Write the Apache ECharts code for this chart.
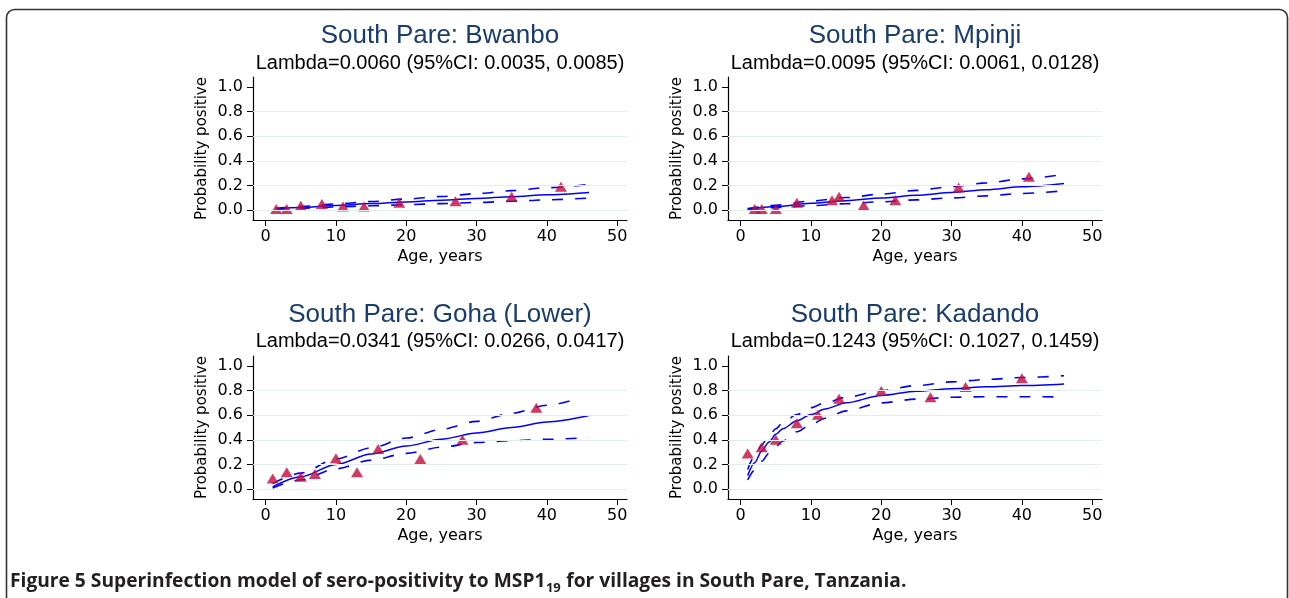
<!DOCTYPE html>
<html>
<head>
<meta charset="utf-8">
<script src="https://cdn.jsdelivr.net/npm/echarts@6/dist/echarts.min.js"></script>
<style>
  html, body { margin: 0; padding: 0; background: #fff; }
  #chart { width: 1289px; height: 598px; }
</style>
</head>
<body>
<div id="chart"></div>
<script>
// ---------- data ----------
const panelTitles = ['South Pare: Bwanbo', 'South Pare: Mpinji', 'South Pare: Goha (Lower)', 'South Pare: Kadando'];
const lambdaTexts = [
  'Lambda=0.0060 (95%CI: 0.0035, 0.0085)',
  'Lambda=0.0095 (95%CI: 0.0061, 0.0128)',
  'Lambda=0.0341 (95%CI: 0.0266, 0.0417)',
  'Lambda=0.1243 (95%CI: 0.1027, 0.1459)'
];
const xTicks = [0, 10, 20, 30, 40, 50];
const yTicks = [0, 0.2, 0.4, 0.6, 0.8, 1.0];
const gridLevels = [0, 0.2, 0.4, 0.6, 0.8];
const xAxisName = 'Age, years';
const yAxisName = 'Probability positive';
const captionMain = 'Figure 5 Superinfection model of sero-positivity to MSP1';
const captionSub = '19';
const captionEnd = ' for villages in South Pare, Tanzania.';

// observed points
const bwanboAge = [1.5, 3, 5, 8, 11, 14, 19, 27, 35, 42];
const bwanboPos = [0.01, 0.01, 0.035, 0.05, 0.03, 0.03, 0.06, 0.073, 0.108, 0.19];
const mpinjiAge = [2, 3, 5, 8, 13, 14, 17.5, 22, 31, 41];
const mpinjiPos = [0.01, 0.01, 0.01, 0.06, 0.081, 0.108, 0.038, 0.081, 0.184, 0.27];
const gohaAge = [1, 3, 5, 7, 10, 13, 16, 22, 28, 38.5];
const gohaPos = [0.087, 0.136, 0.10, 0.122, 0.25, 0.136, 0.326, 0.245, 0.40, 0.66];
const kadandoAge = [1, 3, 5, 8, 11, 14, 20, 27, 32, 40];
const kadandoPos = [0.29, 0.34, 0.40, 0.535, 0.603, 0.734, 0.796, 0.745, 0.829, 0.90];

// fitted curves
const bwanboCurveAge = [1.5, 5, 10, 15, 20, 25, 30, 35, 40, 46];
const bwanboFit   = [0.011, 0.022, 0.038, 0.053, 0.067, 0.081, 0.095, 0.109, 0.124, 0.143];
const bwanboUpper = [0.015, 0.030, 0.050, 0.070, 0.090, 0.111, 0.134, 0.158, 0.182, 0.208];
const bwanboLower = [0.008, 0.016, 0.026, 0.035, 0.044, 0.053, 0.062, 0.072, 0.084, 0.098];

const mpinjiCurveAge = [1, 5, 10, 15, 20, 25, 30, 35, 40, 46];
const mpinjiFit   = [0.008, 0.030, 0.055, 0.077, 0.098, 0.120, 0.143, 0.166, 0.190, 0.216];
const mpinjiUpper = [0.012, 0.040, 0.073, 0.102, 0.130, 0.160, 0.190, 0.221, 0.254, 0.290];
const mpinjiLower = [0.005, 0.020, 0.037, 0.052, 0.068, 0.083, 0.099, 0.116, 0.135, 0.157];

const gohaCurveAge = [1, 5, 10, 15, 20, 25, 30, 35, 40, 46];
const gohaFit   = [0.018, 0.100, 0.200, 0.285, 0.350, 0.405, 0.455, 0.500, 0.545, 0.597];
const gohaUpperAge = [1, 5, 10, 15, 20, 25, 30, 35, 40, 44.5];
const gohaUpper = [0.045, 0.130, 0.245, 0.335, 0.415, 0.485, 0.550, 0.615, 0.680, 0.735];
const gohaLower = [0.010, 0.075, 0.165, 0.235, 0.290, 0.340, 0.378, 0.393, 0.404, 0.418];

const kadandoCurveAge = [1, 2, 3, 4, 5, 6, 8, 10, 12, 15, 20, 25, 30, 35, 40, 46];
const kadandoFit   = [0.110, 0.215, 0.310, 0.380, 0.445, 0.490, 0.555, 0.605, 0.650, 0.700, 0.760, 0.795, 0.815, 0.830, 0.840, 0.853];
const kadandoUpper = [0.160, 0.270, 0.360, 0.430, 0.490, 0.540, 0.605, 0.660, 0.700, 0.745, 0.800, 0.840, 0.870, 0.890, 0.905, 0.920];
const kadandoLower = [0.075, 0.155, 0.225, 0.290, 0.345, 0.390, 0.465, 0.525, 0.575, 0.635, 0.700, 0.730, 0.745, 0.750, 0.750, 0.748];

// ---------- build ----------
const zip = (xs, ys) => xs.map((x, i) => [x, ys[i]]);
const panels = [
  { pts: zip(bwanboAge, bwanboPos), fit: zip(bwanboCurveAge, bwanboFit), up: zip(bwanboCurveAge, bwanboUpper), lo: zip(bwanboCurveAge, bwanboLower) },
  { pts: zip(mpinjiAge, mpinjiPos), fit: zip(mpinjiCurveAge, mpinjiFit), up: zip(mpinjiCurveAge, mpinjiUpper), lo: zip(mpinjiCurveAge, mpinjiLower) },
  { pts: zip(gohaAge, gohaPos), fit: zip(gohaCurveAge, gohaFit), up: zip(gohaUpperAge, gohaUpper), lo: zip(gohaCurveAge, gohaLower) },
  { pts: zip(kadandoAge, kadandoPos), fit: zip(kadandoCurveAge, kadandoFit), up: zip(kadandoCurveAge, kadandoUpper), lo: zip(kadandoCurveAge, kadandoLower) }
];

const layout = [
  { left: 253, top: 77, cx: 440, ty: 36, sy: 63 },
  { left: 728, top: 77, cx: 915, ty: 36, sy: 63 },
  { left: 253, top: 356, cx: 440, ty: 315, sy: 341 },
  { left: 728, top: 356, cx: 915, ty: 315, sy: 341 }
];
const gw = 374, gh = 143;

const tickFont = 'DejaVu Sans';
const grids = [], xAxes = [], yAxes = [], series = [], graphics = [];

layout.forEach((L, i) => {
  grids.push({ left: L.left, top: L.top, width: gw, height: gh, containLabel: false });
  xAxes.push({
    gridIndex: i, type: 'value', min: -1.8, max: 51.4,
    axisLine: { show: true, onZero: false, lineStyle: { color: '#000', width: 1.2 } },
    axisTick: { show: true, length: 6, customValues: xTicks, lineStyle: { color: '#000', width: 1 } },
    axisLabel: { customValues: xTicks, color: '#000', fontFamily: tickFont, fontSize: 16, margin: 9 },
    splitLine: { show: false },
    name: xAxisName, nameLocation: 'middle', nameGap: 29,
    nameTextStyle: { color: '#000', fontFamily: tickFont, fontSize: 16 }
  });
  yAxes.push({
    gridIndex: i, type: 'value', min: -0.08, max: 1.08,
    axisLine: { show: true, onZero: false, lineStyle: { color: '#000', width: 1.2 } },
    axisTick: { show: true, length: 6, customValues: yTicks, lineStyle: { color: '#000', width: 1 } },
    axisLabel: { customValues: yTicks, color: '#000', fontFamily: tickFont, fontSize: 16, margin: 10,
                 formatter: v => Number(v).toFixed(1) },
    splitLine: { show: false },
    name: yAxisName, nameLocation: 'middle', nameGap: 43, nameRotate: 90,
    nameTextStyle: { color: '#000', fontFamily: tickFont, fontSize: 15 }
  });
  const P = panels[i];
  // grid lines
  series.push({
    type: 'line', xAxisIndex: i, yAxisIndex: i, data: [], z: 1, silent: true,
    markLine: {
      silent: true, symbol: ['none', 'none'], label: { show: false },
      lineStyle: { color: '#e3ecef', type: 'solid', width: 1 },
      emphasis: { disabled: true },
      data: gridLevels.map(v => ({ yAxis: v }))
    }
  });
  const lineBase = { type: 'line', xAxisIndex: i, yAxisIndex: i, showSymbol: false, smooth: 0.3,
                     smoothMonotone: 'x', silent: true, z: 2 };
  series.push(Object.assign({}, lineBase, { data: P.fit, lineStyle: { color: '#0000ff', width: 1.5 } }));
  series.push(Object.assign({}, lineBase, { data: P.up, lineStyle: { color: '#0000ff', width: 1.6, type: [11, 12] } }));
  series.push(Object.assign({}, lineBase, { data: P.lo, lineStyle: { color: '#0000ff', width: 1.6, type: [11, 12] } }));
  series.push({
    type: 'scatter', xAxisIndex: i, yAxisIndex: i, data: P.pts, z: 3, silent: true,
    symbol: 'triangle', symbolSize: [12, 10], itemStyle: { color: '#c40a3a' }
  });
  graphics.push({
    type: 'text', x: L.cx, y: L.ty, silent: true,
    style: { text: panelTitles[i], fill: '#1a3d6b', font: '26px "Liberation Sans"', align: 'center', verticalAlign: 'middle' }
  });
  graphics.push({
    type: 'text', x: L.cx, y: L.sy, silent: true,
    style: { text: lambdaTexts[i], fill: '#000', font: '20px "Liberation Sans"', align: 'center', verticalAlign: 'middle' }
  });
});

// frame
graphics.push({
  type: 'rect', silent: true, z: -1,
  shape: { x: 6.5, y: 9.5, width: 1281, height: 620, r: 8 },
  style: { fill: 'none', stroke: '#333', lineWidth: 1.6 }
});

// caption (main text, subscript, rest), positioned by measured widths
const capFont = 'bold 19.2px "Open Sans"';
const subFont = 'bold 13px "Open Sans"';
const mctx = document.createElement('canvas').getContext('2d');
mctx.font = capFont;
const wMain = mctx.measureText(captionMain).width;
mctx.font = subFont;
const wSub = mctx.measureText(captionSub).width;
const capX = 10, capY = 582;
graphics.push({
  type: 'text', x: capX, y: capY, silent: true,
  style: { text: captionMain, font: capFont, fill: '#231f20', align: 'left', verticalAlign: 'middle' }
});
graphics.push({
  type: 'text', x: capX + wMain + 0.5, y: capY + 6, silent: true,
  style: { text: captionSub, font: subFont, fill: '#231f20', align: 'left', verticalAlign: 'middle' }
});
graphics.push({
  type: 'text', x: capX + wMain + wSub + 1, y: capY, silent: true,
  style: { text: captionEnd, font: capFont, fill: '#231f20', align: 'left', verticalAlign: 'middle' }
});

const chart = echarts.init(document.getElementById('chart'), null, { renderer: 'canvas' });
chart.setOption({
  animation: false,
  backgroundColor: '#fff',
  grid: grids, xAxis: xAxes, yAxis: yAxes, series: series, graphic: graphics
});
</script>
</body>
</html>
